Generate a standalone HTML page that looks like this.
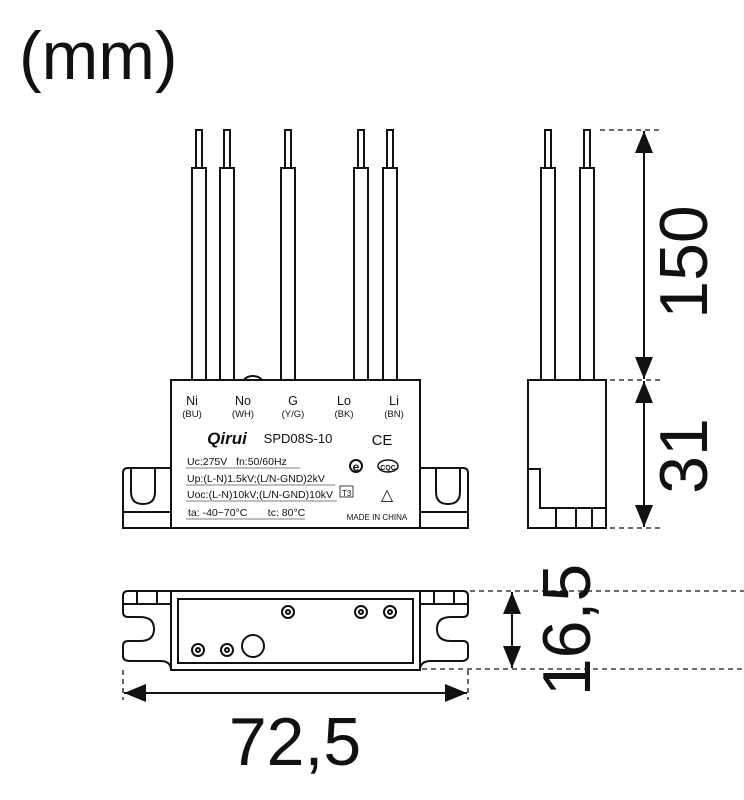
<!DOCTYPE html>
<html><head><meta charset="utf-8"><style>body{margin:0;background:#fff}svg{display:block}</style></head>
<body>
<svg width="744" height="800" viewBox="0 0 744 800" xmlns="http://www.w3.org/2000/svg" font-family="Liberation Sans, sans-serif">
<defs>
<marker id="a" viewBox="0 0 22 18" refX="22" refY="9" markerWidth="22" markerHeight="18" markerUnits="userSpaceOnUse" orient="auto-start-reverse"><path d="M0,0L22,9L0,18z" fill="#111"/></marker>
</defs>
<text x="19" y="79" font-size="68" fill="#111">(mm)</text>
<g stroke="#111" stroke-width="2" fill="#fff">
<g>
<rect x="196" y="130" width="6" height="38"/><rect x="192" y="168" width="14" height="212"/>
<rect x="224" y="130" width="6" height="38"/><rect x="220" y="168" width="14" height="212"/>
<rect x="285" y="130" width="6" height="38"/><rect x="281" y="168" width="14" height="212"/>
<rect x="358" y="130" width="6" height="38"/><rect x="354" y="168" width="14" height="212"/>
<rect x="387" y="130" width="6" height="38"/><rect x="383" y="168" width="14" height="212"/>
<path d="M244,380 A10,7 0 0 1 262,380" fill="none"/>
</g>
<path d="M171,468 H128 Q123,468 123,473 V528 H171 Z"/>
<path d="M131,468 V492 Q131,504 143,504 Q155,504 155,492 V468" fill="none"/>
<line x1="123" y1="512" x2="171" y2="512"/>
<path d="M420,468 H463 Q468,468 468,473 V528 H420 Z"/>
<path d="M436,468 V492 Q436,504 448,504 Q460,504 460,492 V468" fill="none"/>
<line x1="420" y1="512" x2="468" y2="512"/>
<rect x="171" y="380" width="249" height="148"/>
<rect x="545" y="130" width="6" height="38"/><rect x="541" y="168" width="14" height="212"/>
<rect x="584" y="130" width="6" height="38"/><rect x="580" y="168" width="14" height="212"/>
<rect x="528" y="380" width="78" height="148"/>
<path d="M528,469 H540 V508 H606 M556,508 V528 M576,508 V528 M592,508 V528" fill="none"/>
<path d="M171,591 H128 Q123,591 123,596 V612 Q123,617 128,617 H140 Q154,617 154,629 Q154,641 140,641 H128 Q123,641 123,646 V656 Q123,661 130,661 H160 Q171,661 171,670 Z"/>
<path d="M420,591 H463 Q468,591 468,596 V612 Q468,617 463,617 H451 Q437,617 437,629 Q437,641 451,641 H463 Q468,641 468,646 V656 Q468,661 461,661 H431 Q420,661 420,670 Z"/>
<path d="M123,604 H171 M137,591 V604 M157,591 V604 M420,604 H468 M434,591 V604 M454,591 V604" fill="none"/>
<rect x="171" y="591" width="249" height="79"/>
<rect x="178" y="599" width="235" height="64"/>
<circle cx="288" cy="612" r="6"/><circle cx="288" cy="612" r="2"/>
<circle cx="361" cy="612" r="6"/><circle cx="361" cy="612" r="2"/>
<circle cx="390" cy="612" r="6"/><circle cx="390" cy="612" r="2"/>
<circle cx="198" cy="650" r="6"/><circle cx="198" cy="650" r="2"/>
<circle cx="227" cy="650" r="6"/><circle cx="227" cy="650" r="2"/>
<circle cx="253" cy="646" r="11"/>
</g>
<g stroke="#111" stroke-width="1.3" stroke-dasharray="5,4" fill="none">
<line x1="600" y1="130" x2="662" y2="130"/><line x1="610" y1="380" x2="662" y2="380"/><line x1="610" y1="528" x2="662" y2="528"/>
<line x1="470" y1="591" x2="744" y2="591"/><line x1="422" y1="669" x2="744" y2="669"/>
<line x1="123" y1="670" x2="123" y2="700"/><line x1="468" y1="670" x2="468" y2="700"/>
</g>
<g stroke="#111" stroke-width="2" marker-start="url(#a)" marker-end="url(#a)">
<line x1="644" y1="131" x2="644" y2="379"/>
<line x1="644" y1="381" x2="644" y2="527"/>
<line x1="512" y1="592" x2="512" y2="668"/>
<line x1="124" y1="693" x2="467" y2="693"/>
</g>
<g font-size="68" fill="#111">
<text transform="translate(707,262) rotate(-90)" text-anchor="middle">150</text>
<text transform="translate(707,456) rotate(-90)" text-anchor="middle">31</text>
<text transform="translate(590,630) rotate(-90)" text-anchor="middle">16,5</text>
<text x="295" y="765" text-anchor="middle">72,5</text>
</g>
<g fill="#111" text-anchor="middle">
<g font-size="12.5"><text x="192" y="405">Ni</text><text x="243" y="405">No</text><text x="293" y="405">G</text><text x="344" y="405">Lo</text><text x="394" y="405">Li</text></g>
<g font-size="9.5"><text x="192" y="417">(BU)</text><text x="243" y="417">(WH)</text><text x="293" y="417">(Y/G)</text><text x="344" y="417">(BK)</text><text x="394" y="417">(BN)</text></g>
<text x="227" y="444" font-size="17" font-weight="bold" font-style="italic">Qirui</text>
<text x="298" y="443" font-size="13">SPD08S-10</text>
<text x="382" y="445" font-size="15">CE</text>
<text x="388" y="470" font-size="7" font-weight="bold">CQC</text>
<text x="387" y="500" font-size="16">△</text>
<text x="377" y="520" font-size="8">MADE IN CHINA</text>
<text x="356" y="471" font-size="12" font-weight="bold">e</text>
</g>
<circle cx="356" cy="466" r="6" fill="none" stroke="#111" stroke-width="2"/>
<ellipse cx="388" cy="466" rx="10" ry="6" fill="none" stroke="#111" stroke-width="1.5"/>
<g fill="#111" font-size="10.5">
<text x="187" y="465">Uc:275V&#160;&#160;&#160;fn:50/60Hz</text>
<text x="187" y="482">Up:(L-N)1.5kV;(L/N-GND)2kV</text>
<text x="187" y="498">Uoc:(L-N)10kV;(L/N-GND)10kV</text>
<text x="188" y="516">ta: -40~70°C&#160;&#160;&#160;&#160;&#160;&#160;&#160;tc: 80°C</text>
<text x="342" y="496" font-size="8">T3</text>
</g>
<g stroke="#555" stroke-width="0.8">
<line x1="186" y1="468" x2="300" y2="468"/><line x1="186" y1="485" x2="335" y2="485"/><line x1="186" y1="501" x2="337" y2="501"/><line x1="186" y1="519" x2="305" y2="519"/>
</g>
<rect x="340" y="486" width="13" height="11" fill="none" stroke="#111" stroke-width="0.8"/>
</svg>
</body></html>
